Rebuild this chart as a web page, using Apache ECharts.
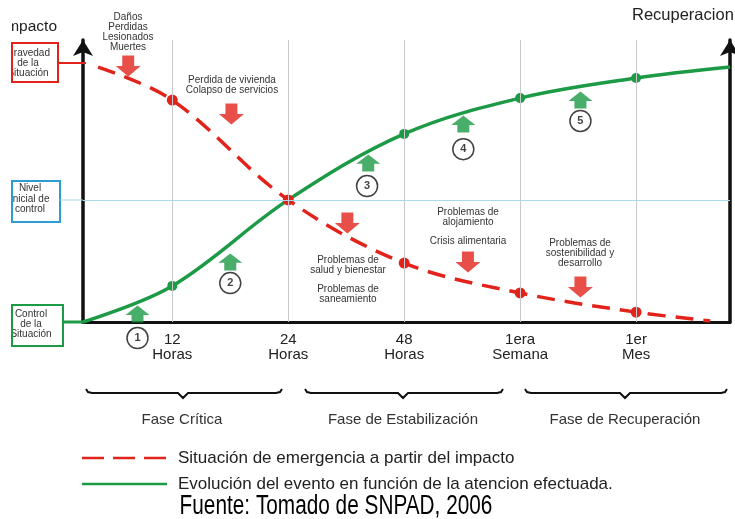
<!DOCTYPE html>
<html><head><meta charset="utf-8">
<script src="https://cdn.jsdelivr.net/npm/echarts@6/dist/echarts.min.js"></script>
<style>html,body{margin:0;padding:0;background:#fff}#c{width:735px;height:519px}</style>
</head><body><div id="c"></div>
<script>
// ---- data (x in "time step" units: 1 = 12 Horas ... 5 = 1er Mes; y = relative level 0..100)
const categories = ['12\nHoras', '24\nHoras', '48\nHoras', '1era\nSemana', '1er\nMes'];
const tickPositions = [1, 2, 3, 4, 5];
const redName = 'Situación de emergencia a partir del impacto';
const greenName = 'Evolución del evento en función de la atencion efectuada.';
const redX = [0.36, 1, 2, 3, 4, 5, 5.64];
const redY = [90.4, 78.7, 43.3, 20.9, 10.3, 3.5, 0.4];
const greenX = [0.23, 1, 2, 3, 4, 5, 5.81];
const greenY = [0, 12.8, 43.3, 66.7, 79.4, 86.5, 90.4];
const controlLevel = 43.3;
const redArrowX = [0.62, 1.51, 2.51, 3.55, 4.52];
const redArrowY = [90.8, 73.8, 35.1, 21.3, 12.4];
const greenArrowX = [0.70, 1.50, 2.69, 3.51, 4.52];
const greenArrowY = [2.8, 21.3, 56.4, 70.2, 78.7];
const stepX = [0.70, 1.50, 2.68, 3.51, 4.52];
const stepY = [-5.7, 13.8, 48.2, 61.3, 71.3];
const stepLabels = ['1', '2', '3', '4', '5'];
const phases = ['Fase Crítica', 'Fase de Estabilización', 'Fase de Recuperación'];
const notes = [
  'Daños\nPerdidas\nLesionados\nMuertes',
  'Perdida de vivienda\nColapso de servicios',
  'Problemas de\nsalud y bienestar',
  'Problemas de\nsaneamiento',
  'Problemas de\nalojamiento',
  'Crisis alimentaria',
  'Problemas de\nsostenibilidad y\ndesarrollo'
];
const boxTexts = ['Gravedad\nde la\nSituación', 'Nivel\ninicial de\ncontrol', 'Control\nde la\nSituación'];
const axisTitles = ['Impacto', 'Recuperacion'];
const source = 'Fuente: Tomado de SNPAD, 2006';

// ---- styling
const RED = '#e2231c', GREEN = '#1c9a45', BLUE = '#2f9bd3', LBLUE = '#a9d9ec';
const FONT = '"Liberation Sans", Arial, sans-serif';
const xMin = 0.23, xMax = 5.81;

const chart = echarts.init(document.getElementById('c'), null, {renderer: 'canvas'});

function txt(text, x, y, size, opts) {
  return Object.assign({
    type: 'text', z: 50,
    style: Object.assign({text: text, x: x, y: y, fontSize: size, fontFamily: FONT, fill: '#333',
      align: 'center', verticalAlign: 'top', lineHeight: size}, opts || {})
  });
}
function brace(x0, xm, x1, y) {
  return {type: 'polyline', z: 50, shape: {points: [
    [x0, y - 4], [x0 + 2, y - 1], [x0 + 6, y], [xm - 5, y], [xm, y + 5], [xm + 5, y], [x1 - 6, y], [x1 - 2, y - 1], [x1, y - 4]
  ]}, style: {stroke: '#111', lineWidth: 2, fill: null}};
}

const graphics = [
  // annotations
  txt(notes[0], 128, 12, 10, {lineHeight: 10}),
  txt(notes[1], 232, 75, 10, {lineHeight: 10}),
  txt(notes[2], 348, 255, 10, {lineHeight: 10}),
  txt(notes[3], 348, 284, 10, {lineHeight: 10}),
  txt(notes[4], 468, 207, 10, {lineHeight: 10}),
  txt(notes[5], 468, 236, 10, {lineHeight: 10}),
  txt(notes[6], 580, 238, 10, {lineHeight: 10}),
  // axis titles
  txt(axisTitles[0], 57, 27, 15.5, {align: 'right', verticalAlign: 'middle', fill: '#222'}),
  txt(axisTitles[1], 632, 15, 16.5, {align: 'left', verticalAlign: 'middle', fill: '#222'}),
  // box texts
  txt(boxTexts[0], 28, 48, 10, {lineHeight: 10}),
  txt(boxTexts[1], 30, 183, 10, {lineHeight: 10.5}),
  txt(boxTexts[2], 31, 309, 10, {lineHeight: 10}),
  // white left margin (the source image is cropped)
  {type: 'rect', z: 60, shape: {x: 0, y: 0, width: 12, height: 360}, style: {fill: '#fff'}},
  // boxes
  {type: 'rect', z: 61, shape: {x: 12, y: 43, width: 46, height: 39}, style: {stroke: RED, lineWidth: 2, fill: null}},
  {type: 'rect', z: 61, shape: {x: 12, y: 181, width: 48, height: 41}, style: {stroke: BLUE, lineWidth: 2, fill: null}},
  {type: 'rect', z: 61, shape: {x: 12, y: 305, width: 51, height: 41}, style: {stroke: GREEN, lineWidth: 2, fill: null}},
  // connectors
  {type: 'line', z: 61, shape: {x1: 58, y1: 63, x2: 86, y2: 63}, style: {stroke: RED, lineWidth: 2}},
  {type: 'line', z: 61, shape: {x1: 60, y1: 200, x2: 83, y2: 200}, style: {stroke: LBLUE, lineWidth: 1}},
  {type: 'line', z: 61, shape: {x1: 63, y1: 322, x2: 84, y2: 322}, style: {stroke: GREEN, lineWidth: 3}},
  // braces & phases
  brace(86, 183, 282, 393),
  brace(305, 403, 503, 393),
  brace(525, 625, 727, 393),
  txt(phases[0], 182, 420, 15, {verticalAlign: 'middle', fill: '#333'}),
  txt(phases[1], 403, 420, 15, {verticalAlign: 'middle', fill: '#333'}),
  txt(phases[2], 625, 420, 15, {verticalAlign: 'middle', fill: '#333'}),
  // legend
  {type: 'line', z: 50, shape: {x1: 82, y1: 458, x2: 167, y2: 458}, style: {stroke: RED, lineWidth: 2.5, lineDash: [22, 9]}},
  {type: 'line', z: 50, shape: {x1: 82, y1: 484, x2: 167, y2: 484}, style: {stroke: GREEN, lineWidth: 2.5}},
  txt(redName, 178, 458, 17, {align: 'left', verticalAlign: 'middle', fill: '#222'}),
  txt(greenName, 178, 484, 17, {align: 'left', verticalAlign: 'middle', fill: '#222'}),
  {type: 'text', z: 50, x: 336, y: 507, scaleX: 0.77,
   style: {text: source, x: 0, y: 0, fontSize: 27, fontFamily: FONT, fill: '#000', align: 'center', verticalAlign: 'middle'}}
];

const option = {
  animation: false,
  backgroundColor: '#fff',
  grid: {left: 83, right: 5, top: 40, bottom: 197},
  xAxis: {
    type: 'value', min: xMin, max: xMax,
    axisLine: {show: true, onZero: false, lineStyle: {color: '#111', width: 3}},
    axisTick: {show: false},
    splitLine: {show: false},
    axisLabel: {
      customValues: tickPositions, margin: 10, color: '#222', fontSize: 15, lineHeight: 15,
      fontFamily: FONT,
      formatter: function (v) { const i = tickPositions.indexOf(Math.round(v)); return i >= 0 ? categories[i] : ''; }
    }
  },
  yAxis: [
    {type: 'value', min: 0, max: 100, position: 'left',
     axisLine: {show: true, onZero: false, symbol: ['none', 'arrow'], symbolSize: [15, 16], lineStyle: {color: '#111', width: 3.5}},
     axisTick: {show: false}, axisLabel: {show: false}, splitLine: {show: false}},
    {type: 'value', min: 0, max: 100, position: 'right',
     axisLine: {show: true, onZero: false, symbol: ['none', 'arrow'], symbolSize: [15, 16], lineStyle: {color: '#111', width: 3.5}},
     axisTick: {show: false}, axisLabel: {show: false}, splitLine: {show: false}}
  ],
  series: [
    {type: 'line', data: [], z: 1, silent: true,
     markLine: {silent: true, symbol: ['none', 'none'], label: {show: false}, animation: false,
       data: tickPositions.map(v => ({xAxis: v, lineStyle: {color: '#c9c9c9', width: 1, type: 'solid'}}))
         .concat([{yAxis: controlLevel, lineStyle: {color: LBLUE, width: 1, type: 'solid'}}])}},
    {name: greenName, type: 'line', z: 3, smooth: 0.35,
     data: greenX.map((x, i) => ({value: [x, greenY[i]], symbol: Number.isInteger(x) ? 'circle' : 'none'})),
     symbolSize: 10, lineStyle: {color: GREEN, width: 3.5}, itemStyle: {color: GREEN}},
    {name: redName, type: 'line', z: 4, smooth: 0.35,
     data: redX.map((x, i) => ({value: [x, redY[i]], symbol: Number.isInteger(x) ? 'circle' : 'none'})),
     symbolSize: 11, lineStyle: {color: RED, width: 3.5, type: [18, 10]}, itemStyle: {color: RED}},
    {type: 'scatter', z: 5, clip: false, silent: true,
     symbol: 'path://M4.7,0 H13.3 V10 H18 L9,20 L0,10 H4.7 Z', symbolSize: [25, 21],
     itemStyle: {color: RED}, data: redArrowX.map((x, i) => [x, redArrowY[i]])},
    {type: 'scatter', z: 5, clip: false, silent: true,
     symbol: 'path://M9,0 L18,11 H13.5 V20 H4.5 V11 H0 Z', symbolSize: [24, 17],
     itemStyle: {color: GREEN}, data: greenArrowX.map((x, i) => [x, greenArrowY[i]])},
    {type: 'scatter', z: 6, clip: false, silent: true, symbol: 'circle', symbolSize: 21,
     itemStyle: {color: '#fff', borderColor: '#111', borderWidth: 1.5},
     label: {show: true, position: 'inside', color: '#111', fontSize: 11, fontWeight: 'bold', fontFamily: FONT,
       formatter: p => stepLabels[p.dataIndex]},
     data: stepX.map((x, i) => [x, stepY[i]])}
  ],
  graphic: graphics
};
chart.setOption(option);
</script>
</body></html>
